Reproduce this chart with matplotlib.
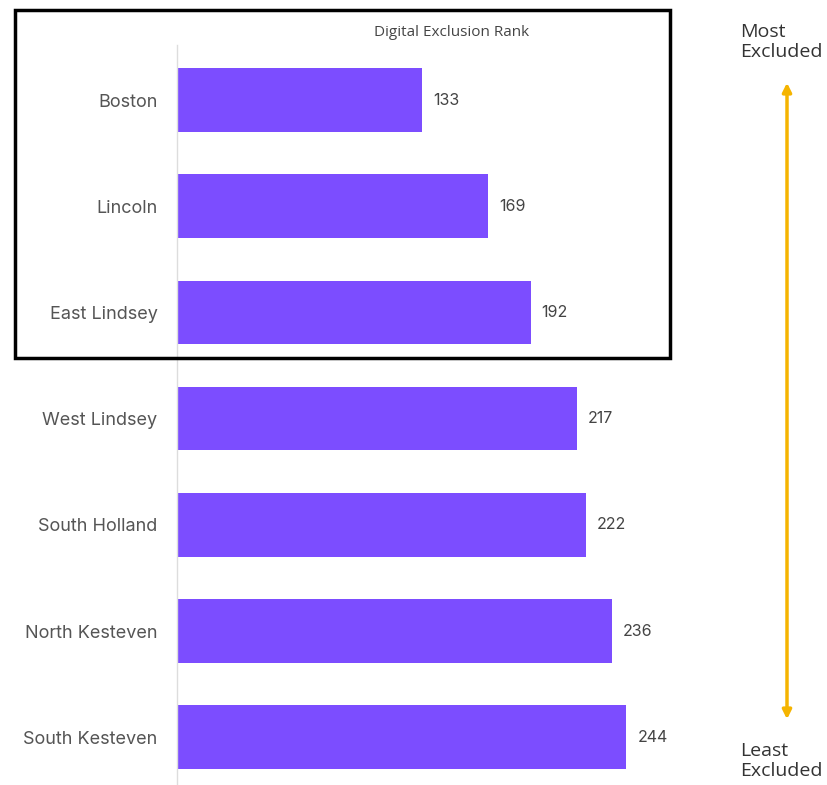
import matplotlib.pyplot as plt
from matplotlib.patches import Rectangle, FancyArrowPatch

districts = ["Boston", "Lincoln", "East Lindsey", "West Lindsey",
             "South Holland", "North Kesteven", "South Kesteven"]
ranks = [133, 169, 192, 217, 222, 236, 244]

W, H = 828, 785
fig = plt.figure(figsize=(W / 100, H / 100), dpi=100)

# axes placed in pixel terms: left edge at x=177, top at y=45
ax = fig.add_axes([177 / W, 0, (700 - 177) / W, 1 - 45 / H])
ypos = list(range(len(districts)))
ax.barh(ypos, ranks, height=0.6, color="#7c4dff")
for y, v in zip(ypos, ranks):
    ax.text(v + 6, y, str(v), va="center", ha="left", fontsize=11.5,
            color="#444444", family="Inter")

ax.set_xlim(0, 284)
ax.set_ylim(6.45, -0.518)
ax.set_yticks(ypos)
ax.set_yticklabels(districts, fontsize=13, color="#555555", family="Inter")
ax.tick_params(axis="y", length=0, pad=14)
ax.set_xticks([])
for s in ["top", "right", "bottom"]:
    ax.spines[s].set_visible(False)
ax.spines["left"].set_color("#dddddd")
ax.spines["left"].set_linewidth(1)

fig.text(452 / W, 1 - 33 / H, "Digital Exclusion Rank", ha="center", va="center",
         fontsize=11, color="#444444", family="Open Sans")

# black box around the three most excluded districts
fig.patches.append(Rectangle((15 / W, 1 - 358 / H), (670 - 15) / W, (358 - 10) / H,
                             transform=fig.transFigure, fill=False,
                             edgecolor="black", linewidth=2.5))

# orange double arrow
fig.add_artist(FancyArrowPatch(
    (787 / W, 1 - 722 / H), (787 / W, 1 - 80 / H), transform=fig.transFigure,
    arrowstyle="<|-|>", mutation_scale=13, color="#f5b400", linewidth=2.5))

fig.text(740 / W, 1 - 42 / H, "Most\nExcluded", ha="left", va="center",
         fontsize=14, color="#333333", family="Open Sans", linespacing=1.2)
fig.text(740 / W, 1 - 761 / H, "Least\nExcluded", ha="left", va="center",
         fontsize=14, color="#333333", family="Open Sans", linespacing=1.2)

fig.savefig("out.png", dpi=100)
